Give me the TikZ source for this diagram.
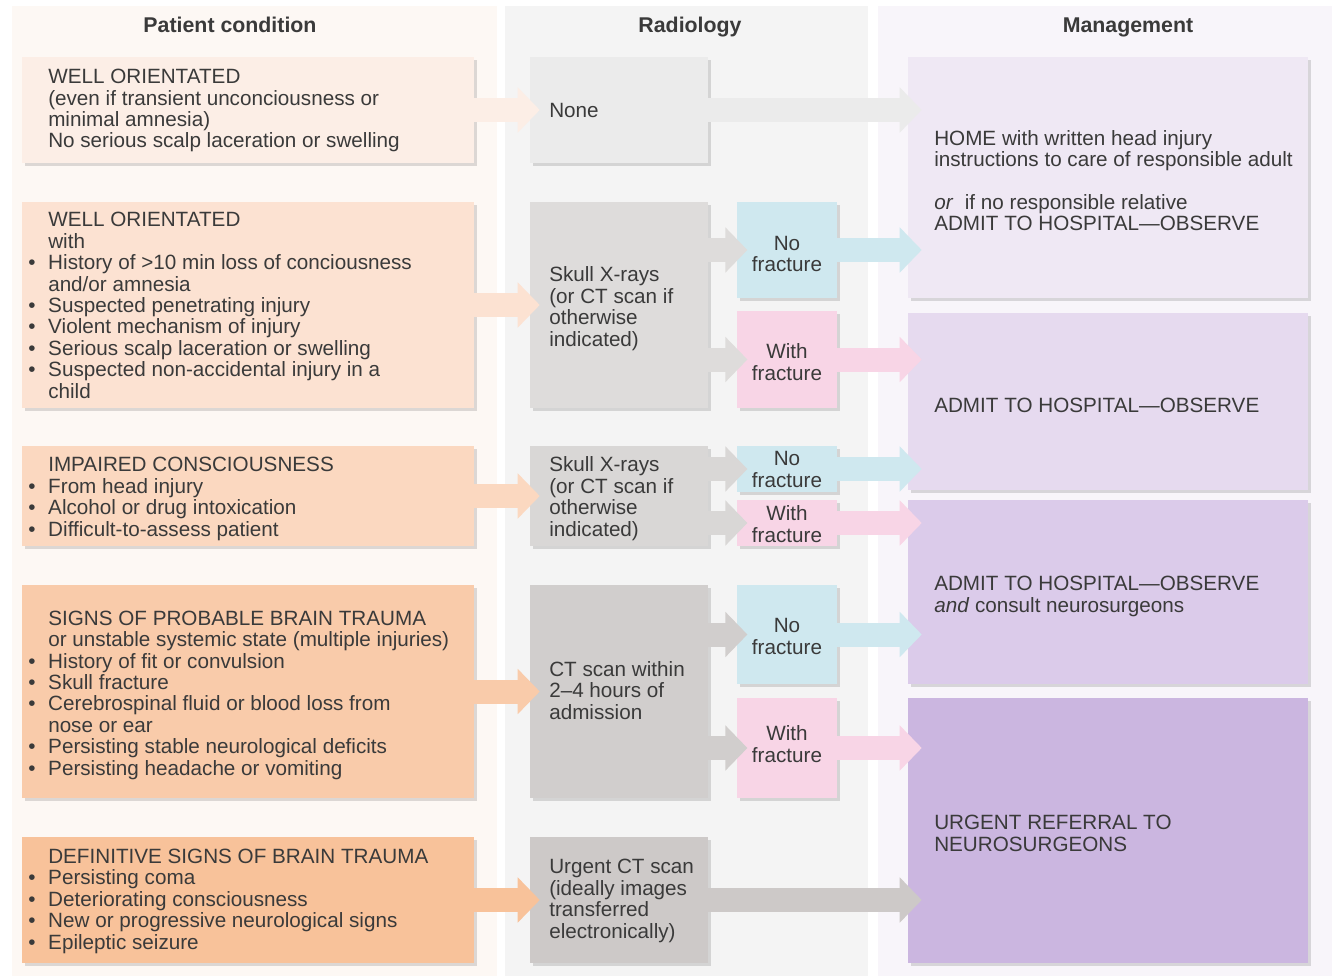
\documentclass[tikz,border=0pt]{standalone}
\usepackage{fontspec}
\setmainfont{Liberation Sans}
\usetikzlibrary{arrows.meta,shadows}
\definecolor{txt}{HTML}{3A3A3A}
\definecolor{bgL}{HTML}{FDF8F4}
\definecolor{bgM}{HTML}{F4F4F4}
\definecolor{bgR}{HTML}{F8F5FA}
\definecolor{cLa}{HTML}{FCEEE6}
\definecolor{cLb}{HTML}{FCE2D2}
\definecolor{cLc}{HTML}{FBD8C0}
\definecolor{cLd}{HTML}{F9CBAA}
\definecolor{cLe}{HTML}{F8C29A}
\definecolor{cGa}{HTML}{EBEBEB}
\definecolor{cGb}{HTML}{DEDCDB}
\definecolor{cGc}{HTML}{D9D7D6}
\definecolor{cGd}{HTML}{D1CECD}
\definecolor{cGe}{HTML}{CDC9C8}
\definecolor{cNo}{HTML}{CFE8EF}
\definecolor{cWi}{HTML}{F8D5E6}
\definecolor{cMa}{HTML}{EFE8F4}
\definecolor{cMb}{HTML}{E6DAEF}
\definecolor{cMc}{HTML}{DBCBEA}
\definecolor{cMd}{HTML}{CBB6E0}
\newcommand\mybox[6]{\node[boxst,fill=#6,minimum width={(#4-#2)*0.75pt},minimum height={(#5-#3)*0.75pt}] (#1) at ({(#2+#4)/2},{(#3+#5)/2}) {};}
\newcommand\bl{\llap{\textbullet\hspace{9.5pt}}}
\begin{document}
\begin{tikzpicture}[x=0.75pt,y=-0.75pt,
  boxst/.style={draw=none,inner sep=0,drop shadow={shadow xshift=2.5pt,shadow yshift=-2.5pt,fill=black,opacity=0.13}},
  arr/.style={line width=18pt,-{Triangle[length=16.5pt,width=33pt]}},
  tl/.style={anchor=base west,align=left,inner sep=0,text=txt,font=\fontsize{15.5}{16.05}\selectfont},
  tc/.style={anchor=base,align=center,inner sep=0,text=txt,font=\fontsize{15.5}{16.05}\selectfont},
  hdr/.style={anchor=base,inner sep=0,text=txt,font=\fontsize{16}{18}\selectfont\bfseries}]
\useasboundingbox (0,0) rectangle (1337,980);
\fill[white] (0,0) rectangle (1337,980);
% column backgrounds
\fill[bgL] (12,6) rectangle (497,976);
\fill[bgM] (505,6) rectangle (868,976);
\fill[bgR] (878,6) rectangle (1332,976);
% headers
\node[hdr] (h1) at (230,33) {Patient condition};
\node[hdr] (h2) at (690,33) {Radiology};
\node[hdr] (h3) at (1128,33) {Management};
% left boxes
\mybox{L1}{22}{57}{474}{163}{cLa}
\mybox{L2}{22}{202}{474}{408}{cLb}
\mybox{L3}{22}{446}{474}{546}{cLc}
\mybox{L4}{22}{585}{474}{798}{cLd}
\mybox{L5}{22}{837}{474}{963}{cLe}
% radiology boxes
\mybox{R1}{530}{57}{708}{163}{cGa}
\mybox{R2}{530}{202}{708}{408}{cGb}
\mybox{R3}{530}{446}{708}{546}{cGc}
\mybox{R4}{530}{585}{708}{798}{cGd}
\mybox{R5}{530}{837}{708}{963}{cGe}
% fracture boxes
\mybox{N2}{737}{202}{837}{298}{cNo}
\mybox{W2}{737}{311}{837}{408}{cWi}
\mybox{N3}{737}{446}{837}{492}{cNo}
\mybox{W3}{737}{500}{837}{546}{cWi}
\mybox{N4}{737}{585}{837}{684}{cNo}
\mybox{W4}{737}{698}{837}{798}{cWi}
% management boxes
\mybox{M1}{908}{57}{1308}{298}{cMa}
\mybox{M2}{908}{313}{1308}{490}{cMb}
\mybox{M3}{908}{500}{1308}{684}{cMc}
\mybox{M4}{908}{698}{1308}{963}{cMd}
% arrows left -> radiology
\draw[arr,draw=cLa] (L1.east) -- ([xshift=7.5pt]R1.west);
\draw[arr,draw=cLb] (L2.east) -- ([xshift=7.5pt]R2.west);
\draw[arr,draw=cLc] (L3.east) -- ([xshift=7.5pt]R3.west);
\draw[arr,draw=cLd] (L4.east) -- ([xshift=7.5pt]R4.west);
\draw[arr,draw=cLe] (L5.east) -- ([xshift=7.5pt]R5.west);
% radiology -> fracture / management
\draw[arr,draw=cGa] (R1.east) -- ([xshift=10.5pt]R1.east -| M1.west);
\draw[arr,draw=cGb] (R2.east |- N2) -- ([xshift=8pt]N2.west);
\draw[arr,draw=cGb] (R2.east |- W2) -- ([xshift=8pt]W2.west);
\draw[arr,draw=cGc] (R3.east |- N3) -- ([xshift=8pt]N3.west);
\draw[arr,draw=cGc] (R3.east |- W3) -- ([xshift=8pt]W3.west);
\draw[arr,draw=cGd] (R4.east |- N4) -- ([xshift=8pt]N4.west);
\draw[arr,draw=cGd] (R4.east |- W4) -- ([xshift=8pt]W4.west);
\draw[arr,draw=cGe] (R5.east) -- ([xshift=10.5pt]R5.east -| M4.west);
% fracture -> management
\draw[arr,draw=cNo] (N2.east) -- ([xshift=10.5pt]N2.east -| M1.west);
\draw[arr,draw=cWi] (W2.east) -- ([xshift=10.5pt]W2.east -| M2.west);
\draw[arr,draw=cNo] (N3.east) -- ([xshift=10.5pt]N3.east -| M2.west);
\draw[arr,draw=cWi] (W3.east) -- ([xshift=10.5pt]W3.east -| M3.west);
\draw[arr,draw=cNo] (N4.east) -- ([xshift=10.5pt]N4.east -| M3.west);
\draw[arr,draw=cWi] (W4.east) -- ([xshift=10.5pt]W4.east -| M4.west);
% left texts (anchored at baseline of last line)
\node[tl] (tL1) at (48,148) {WELL ORIENTATED\\(even if transient unconciousness or\\minimal amnesia)\\No serious scalp laceration or swelling};
\node[tl] (tL2) at (48,398) {WELL ORIENTATED\\with\\\bl History of >10 min loss of conciousness\\and/or amnesia\\\bl Suspected penetrating injury\\\bl Violent mechanism of injury\\\bl Serious scalp laceration or swelling\\\bl Suspected non-accidental injury in a\\child};
\node[tl] (tL3) at (48,536) {IMPAIRED CONSCIOUSNESS\\\bl From head injury\\\bl Alcohol or drug intoxication\\\bl Difficult-to-assess patient};
\node[tl] (tL4) at (48,775) {SIGNS OF PROBABLE BRAIN TRAUMA\\or unstable systemic state (multiple injuries)\\\bl History of fit or convulsion\\\bl Skull fracture\\\bl Cerebrospinal fluid or blood loss from\\nose or ear\\\bl Persisting stable neurological deficits\\\bl Persisting headache or vomiting};
\node[tl] (tL5) at (48,949) {DEFINITIVE SIGNS OF BRAIN TRAUMA\\\bl Persisting coma\\\bl Deteriorating consciousness\\\bl New or progressive neurological signs\\\bl Epileptic seizure};
% radiology texts
\node[tl] (tR1) at (549,118) {None};
\node[tl] (tR2) at (549,346) {Skull X-rays\\(or CT scan if\\otherwise\\indicated)};
\node[tl] (tR3) at (549,536) {Skull X-rays\\(or CT scan if\\otherwise\\indicated)};
\node[tl] (tR4) at (549,719) {CT scan within\\2–4 hours of\\admission};
\node[tl] (tR5) at (549,938) {Urgent CT scan\\(ideally images\\transferred\\electronically)};
% fracture texts
\node[tc] (tN2) at (787,272) {No\\fracture};
\node[tc] (tW2) at (787,380) {With\\fracture};
\node[tc] (tN3) at (787,487) {No\\fracture};
\node[tc] (tW3) at (787,542) {With\\fracture};
\node[tc] (tN4) at (787,654) {No\\fracture};
\node[tc] (tW4) at (787,762) {With\\fracture};
% management texts
\node[tl] (tM1) at (934,231) {HOME with written head injury\\instructions to care of responsible adult\\[16pt]\textit{or}\ \ if no responsible relative\\ADMIT TO HOSPITAL—OBSERVE};
\node[tl] (tM2) at (934,412) {ADMIT TO HOSPITAL—OBSERVE};
\node[tl] (tM3) at (934,612) {ADMIT TO HOSPITAL—OBSERVE\\\textit{and} consult neurosurgeons};
\node[tl] (tM4) at (934,851) {URGENT REFERRAL TO\\NEUROSURGEONS};
\end{tikzpicture}
\end{document}
